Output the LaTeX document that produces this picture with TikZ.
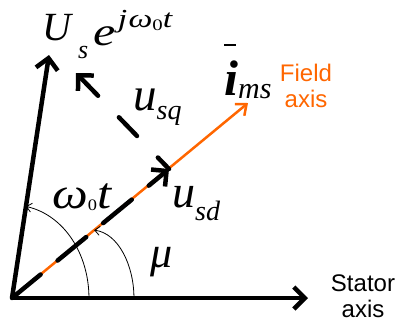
\documentclass[tikz,border=0pt]{standalone}
\usepackage{fontspec}
\setmainfont{Liberation Serif}
\newfontfamily\axisfont{Liberation Sans}
\usetikzlibrary{arrows.meta, calc}
\definecolor{fieldorange}{HTML}{FF6600}
\newcommand{\vecfont}{\fontsize{44}{44}\selectfont\itshape}
\newcommand{\subfont}{\fontsize{28}{28}\selectfont\itshape\mdseries}
\newcommand{\supfont}{\fontsize{26}{26}\selectfont\itshape}
\newcommand{\tinyfont}{\fontsize{16}{16}\selectfont\upshape}

\begin{document}
\begin{tikzpicture}[x=1pt, y=-1pt,
    axisvec/.style={line width=4.5pt, -{Straight Barb[length=11pt,width=22pt]}},
    fieldline/.style={fieldorange, line width=2.5pt, -{Straight Barb[length=9pt,width=15pt]}},
    anglearc/.style={line width=0.8pt, -{Straight Barb[length=5pt,width=9pt]}},
    vlabel/.style={anchor=base west, inner sep=0pt, font=\vecfont},
    axislabel/.style={align=center, inner sep=0pt, font=\axisfont\fontsize{24}{26}\selectfont}]
    \useasboundingbox (0,0) rectangle (400,325);
    % Origin and vector tips
    \coordinate (O) at (12,298);
    \coordinate (S) at (308,298);
    \coordinate (U) at (49,55);
    \coordinate (F) at (248,103);
    \coordinate (D) at (169,169);
    \coordinate (Q) at (76,73);
    % Field axis
    \draw[fieldline] (O) -- (F);
    % Stator axis
    \draw[axisvec] (O) -- (S);
    % Stator voltage vector
    \draw[axisvec] (O) -- (U);
    % d and q components
    \draw[axisvec, dash pattern=on 37pt off 22pt, line cap=round] (O) -- (D);
    \draw[axisvec, dash pattern=on 26pt off 30pt, dash phase=10pt, line cap=round] (D) -- (Q);
    % Angles
    \coordinate (w1) at ($(O)!0.26!(S)$);
    \coordinate (w2) at ($(O)!0.377!(U)$);
    \coordinate (m1) at ($(O)!0.412!(S)$);
    \coordinate (m2) at ($(O)!0.348!(F)$);
    \draw[anglearc] (w1) .. controls ($(w1)+(0,-43)$) and ($(w2)+(39,9)$) .. (w2);
    \draw[anglearc] (m1) .. controls ($(m1)+(0,-33)$) and ($(m2)+(24,3)$) .. (m2);
    % Labels
    \node[vlabel] (Uslbl) at (42,40) {\fontsize{40}{40}\selectfont U\kern7pt\raisebox{-18pt}{\fontsize{26}{26}\selectfont s}\kern5.5pt\raisebox{-5pt}{\scalebox{1.25}[1]{\fontsize{40}{40}\selectfont e}}\kern2pt\raisebox{13pt}{\scalebox{1.3}[1]{\supfont j\kern1ptω\raisebox{-3pt}{\tinyfont 0}t}}};
    \node[vlabel] (usqlbl) at (133,110) {\fontsize{47}{47}\selectfont u\raisebox{-9pt}{\subfont sq}};
    \node[vlabel] (usdlbl) at (172,207) {\fontsize{46}{46}\selectfont u\raisebox{-13pt}{\subfont sd}};
    \node[vlabel] (imslbl) at (224,95) {\fontsize{50}{50}\selectfont\bfseries\rlap{\raisebox{49pt}{\rule{12pt}{1.8pt}}}i\raisebox{-3pt}{\fontsize{30}{30}\selectfont\itshape\mdseries ms}};
    \node[vlabel] (wlbl) at (52,208) {\scalebox{1.15}[1]{ω\raisebox{-2pt}{\tinyfont 0}t}};
    \node[vlabel] (mulbl) at (150,267) {μ};
    \node[axislabel, text=fieldorange] (fieldlbl) at (306,86) {Field\\axis};
    \node[axislabel] (statorlbl) at (363,296) {Stator\\axis};
\end{tikzpicture}
\end{document}
